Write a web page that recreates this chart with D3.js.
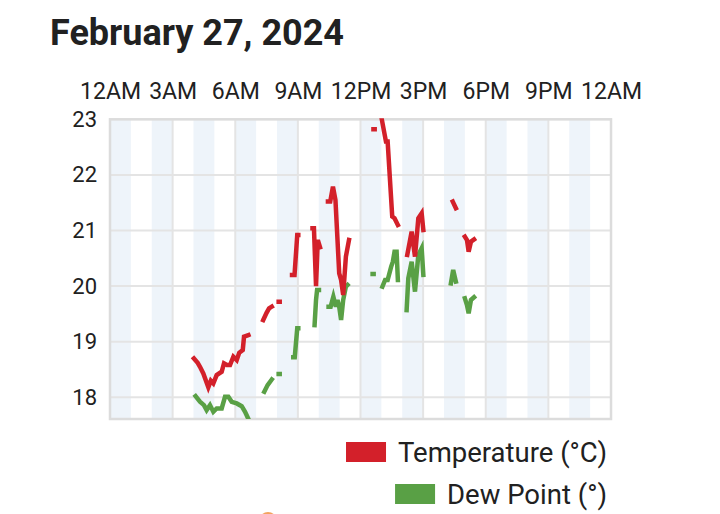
<!DOCTYPE html>
<html>
<head>
<meta charset="utf-8">
<script src="https://cdn.jsdelivr.net/npm/d3@7"></script>
<style>
  html, body { margin: 0; padding: 0; background: #fff; }
  svg { display: block; font-family: Roboto, "Noto Sans", sans-serif; }
</style>
</head>
<body>
<svg id="chart" width="720" height="514"></svg>
<script>
// ---- data ----
const title = "February 27, 2024";
const xTickHours = [0, 3, 6, 9, 12, 15, 18, 21, 24];
const xTickLabels = ["12AM", "3AM", "6AM", "9AM", "12PM", "3PM", "6PM", "9PM", "12AM"];
const yTicks = [18, 19, 20, 21, 22, 23];
const seriesNames = ["Temperature (°C)", "Dew Point (°)"];
const seriesColors = ["#d3202a", "#59a045"];

const tempHours = [4.02,4.20,4.31,4.47,4.71,4.83,4.95,5.11,5.35,5.46,5.60,5.75,5.91,6.07,6.19,6.36,6.42,6.63,null,
  7.34,7.50,7.62,7.75,null,
  8.08,8.13,null,
  8.72,8.84,8.97,9.02,null,
  9.70,9.77,9.87,9.95,9.98,10.06,null,
  10.44,10.55,10.68,10.80,10.98,11.07,11.17,11.30,11.45,null,
  12.62,12.68,null,
  13.02,13.22,13.30,13.52,13.63,13.79,null,
  14.24,14.45,14.61,14.77,14.93,15.01,null,
  16.42,16.57,null,
  17.00,17.10,17.18,17.29,17.44];
const tempValues = [18.70,18.62,18.55,18.43,18.18,18.30,18.25,18.40,18.46,18.61,18.58,18.58,18.73,18.67,18.80,18.85,19.09,19.12,null,
  19.39,19.52,19.60,19.63,null,
  19.72,19.72,null,
  20.20,20.20,20.92,20.92,null,
  21.04,21.04,20.00,20.80,20.80,20.70,null,
  21.52,21.52,21.79,21.55,20.23,20.11,19.84,20.53,20.83,null,
  22.82,22.82,null,
  23.00,22.60,22.60,21.25,21.22,21.10,null,
  20.56,20.98,20.53,21.22,21.31,21.01,null,
  21.52,21.40,null,
  20.89,20.83,20.62,20.80,20.84];

const dewHours = [4.10,4.31,4.50,4.63,4.79,4.95,5.11,5.35,5.51,5.67,5.83,6.07,6.31,6.47,6.63,null,
  7.39,7.55,7.75,null,
  8.08,8.13,null,
  8.78,8.85,8.97,9.02,null,
  9.80,9.87,9.92,10.01,null,
  10.47,10.57,10.70,10.82,10.90,10.98,11.07,11.17,11.30,11.38,null,
  12.58,12.63,null,
  13.05,13.18,13.30,13.47,13.55,13.63,13.73,13.79,null,
  14.21,14.29,14.45,14.61,14.77,14.93,15.01,null,
  16.33,16.44,16.57,null,
  17.00,17.10,17.18,17.29,17.44];
const dewValues = [18.02,17.92,17.86,17.77,17.86,17.74,17.80,17.80,18.01,18.01,17.92,17.89,17.84,17.74,17.61,null,
  18.10,18.22,18.32,null,
  18.42,18.42,null,
  18.72,18.72,19.24,19.24,null,
  19.30,19.75,19.93,19.93,null,
  19.63,19.63,19.81,19.63,19.75,19.63,19.39,19.75,19.99,20.02,null,
  20.22,20.22,null,
  19.99,20.11,20.11,20.35,20.44,20.62,20.62,20.11,null,
  19.57,20.14,20.44,19.90,20.56,20.68,20.20,null,
  20.05,20.29,20.08,null,
  19.78,19.66,19.51,19.75,19.80];

// ---- layout ----
const svg = d3.select("#chart");
const plot = { left: 110, right: 611, top: 119.3, bottom: 419 };
const x = d3.scaleLinear().domain([0, 24]).range([plot.left, plot.right]);
const y = d3.scaleLinear().domain([17.61, 23]).range([plot.bottom, plot.top]);

// title
svg.append("text")
  .attr("x", 50).attr("y", 45)
  .attr("font-size", 36).attr("font-weight", 700)
  .attr("fill", "#212121")
  .text(title);

// hour bands (even hours shaded)
const bandHours = d3.range(0, 24, 2);
svg.append("g").selectAll("rect").data(bandHours).join("rect")
  .attr("x", d => x(d)).attr("width", d => x(d + 1) - x(d))
  .attr("y", plot.top).attr("height", plot.bottom - plot.top)
  .attr("fill", "#eef4fa");

// gridlines
const grid = svg.append("g").attr("stroke", "#e4e4e4").attr("stroke-width", 2);
grid.selectAll("line.v").data(xTickHours).join("line").attr("class", "v")
  .attr("x1", d => x(d)).attr("x2", d => x(d))
  .attr("y1", plot.top).attr("y2", plot.bottom);
grid.selectAll("line.h").data(yTicks).join("line").attr("class", "h")
  .attr("y1", d => y(d)).attr("y2", d => y(d))
  .attr("x1", plot.left).attr("x2", plot.right);

// border
svg.append("rect")
  .attr("x", plot.left).attr("y", plot.top)
  .attr("width", plot.right - plot.left).attr("height", plot.bottom - plot.top)
  .attr("fill", "none").attr("stroke", "#dcdcdc").attr("stroke-width", 2.5);

// top x axis
const xAxis = d3.axisTop(x).tickValues(xTickHours)
  .tickFormat((d, i) => xTickLabels[i]).tickSize(0).tickPadding(0);
const gx = svg.append("g").attr("transform", `translate(0, 99)`).call(xAxis);
gx.select(".domain").remove();
gx.selectAll("text").attr("font-size", 23).attr("fill", "#212121")
  .attr("font-family", "Roboto, sans-serif").attr("dy", 0);

// left y axis
const yAxis = d3.axisLeft(y).tickValues(yTicks).tickFormat(d3.format("d"))
  .tickSize(0).tickPadding(0);
const gy = svg.append("g").attr("transform", `translate(97, 0)`).call(yAxis);
gy.select(".domain").remove();
gy.selectAll("text").attr("font-size", 22).attr("fill", "#212121")
  .attr("font-family", "Roboto, sans-serif");

// clip
svg.append("clipPath").attr("id", "clip").append("rect")
  .attr("x", plot.left).attr("y", plot.top - 1)
  .attr("width", plot.right - plot.left).attr("height", plot.bottom - plot.top + 1);

function makeSeries(hours, values) {
  return hours.map((h, i) => ({ h, v: values[i] }));
}
const line = d3.line()
  .defined(d => d.h !== null && d.v !== null)
  .x(d => x(d.h)).y(d => y(d.v));

const series = [makeSeries(tempHours, tempValues), makeSeries(dewHours, dewValues)];
const lines = svg.append("g").attr("clip-path", "url(#clip)");
[1, 0].forEach(i => {
  lines.append("path").datum(series[i])
    .attr("d", line)
    .attr("fill", "none")
    .attr("stroke", seriesColors[i])
    .attr("stroke-width", 4.5)
    .attr("stroke-linecap", "square")
    .attr("stroke-linejoin", "miter");
});

// legend (right aligned)
const legendRight = 607;
const legendRows = [452, 494];
seriesNames.forEach((name, i) => {
  const t = svg.append("text")
    .attr("x", legendRight).attr("y", legendRows[i])
    .attr("text-anchor", "end").attr("dominant-baseline", "central")
    .attr("font-size", 27.5).attr("fill", "#212121")
    .text(name);
  const w = t.node().getComputedTextLength();
  svg.append("rect")
    .attr("x", legendRight - w - 12 - 40).attr("y", legendRows[i] - 10)
    .attr("width", 40).attr("height", 20)
    .attr("fill", seriesColors[i]);
});

// partial orange marker peeking in at bottom
svg.append("circle").attr("cx", 268).attr("cy", 521).attr("r", 9).attr("fill", "#f3a35f");
</script>
</body>
</html>
